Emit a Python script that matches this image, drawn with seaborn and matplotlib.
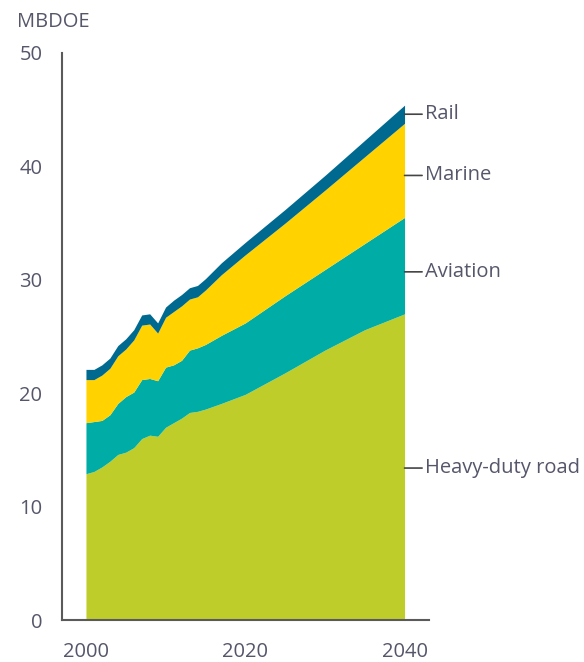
import pandas as pd
import matplotlib.pyplot as plt
import seaborn as sns

# Transport energy demand by sector, MBDOE
years = [2000, 2001, 2002, 2003, 2004, 2005, 2006, 2007, 2008, 2009, 2010,
         2011, 2012, 2013, 2014, 2015, 2017, 2020, 2025, 2030, 2035, 2040]
heavy_duty = [12.9, 13.1, 13.5, 14.0, 14.6, 14.8, 15.2, 16.0, 16.3, 16.2, 17.0,
              17.4, 17.8, 18.3, 18.4, 18.6, 19.1, 19.9, 21.8, 23.8, 25.6, 27.0]
aviation = [4.5, 4.4, 4.1, 4.1, 4.5, 4.9, 4.9, 5.2, 5.0, 4.9, 5.3,
            5.1, 5.1, 5.5, 5.6, 5.7, 6.0, 6.3, 6.8, 7.1, 7.6, 8.5]
marine = [3.8, 3.7, 4.0, 4.1, 4.2, 4.2, 4.6, 4.8, 4.8, 4.2, 4.4,
          4.7, 4.8, 4.5, 4.5, 4.8, 5.35, 6.0, 6.4, 7.0, 7.65, 8.3]
rail = [0.9, 0.9, 0.9, 0.9, 0.9, 0.9, 0.9, 0.9, 0.9, 0.9, 0.9,
        1.0, 1.0, 1.0, 1.0, 1.0, 1.05, 1.1, 1.2, 1.3, 1.45, 1.6]

sectors = ["Heavy-duty road", "Aviation", "Marine", "Rail"]
colors = ["#bfcd2b", "#00aca6", "#ffd200", "#00698f"]
label_y = [13.4, 30.7, 39.2, 44.6]

df = pd.DataFrame({
    "year": years,
    "Heavy-duty road": heavy_duty,
    "Aviation": aviation,
    "Marine": marine,
    "Rail": rail,
})

sns.set_theme(style="white")
plt.rcParams["font.family"] = ["Open Sans", "DejaVu Sans"]

text_color = "#55566a"
axis_color = "#5a5a5a"
fs = 14.5

fig = plt.figure(figsize=(5.84, 6.62), dpi=100)
ax = fig.add_axes([0.106, 0.0634, 0.629, 0.8566])

ax.stackplot(df["year"], [df[s] for s in sectors], colors=colors,
             linewidth=0, antialiased=True)

ax.set_xlim(1996.98, 2043.1)
ax.set_ylim(0, 50)
ax.set_xticks([2000, 2020, 2040])
ax.set_yticks([0, 10, 20, 30, 40, 50])
ax.tick_params(axis="both", length=0, labelsize=fs, colors=text_color)
ax.tick_params(axis="y", pad=14)
ax.tick_params(axis="x", pad=16)

sns.despine(ax=ax, top=True, right=True)
for side in ["left", "bottom"]:
    ax.spines[side].set_color(axis_color)
    ax.spines[side].set_linewidth(1.5)

for name, yv in zip(sectors, label_y):
    ax.annotate(name, xy=(2040, yv), xytext=(15, 0), textcoords="offset points",
                va="center", ha="left", fontsize=fs, color=text_color,
                arrowprops=dict(arrowstyle="-", color="#444444", lw=1.2,
                                shrinkA=0, shrinkB=0),
                annotation_clip=False)

fig.text(17 / 584, 1 - 22 / 662, "MBDOE", ha="left", va="center",
         fontsize=fs, color=text_color)

fig.savefig("out.png", dpi=100)
plt.close(fig)
